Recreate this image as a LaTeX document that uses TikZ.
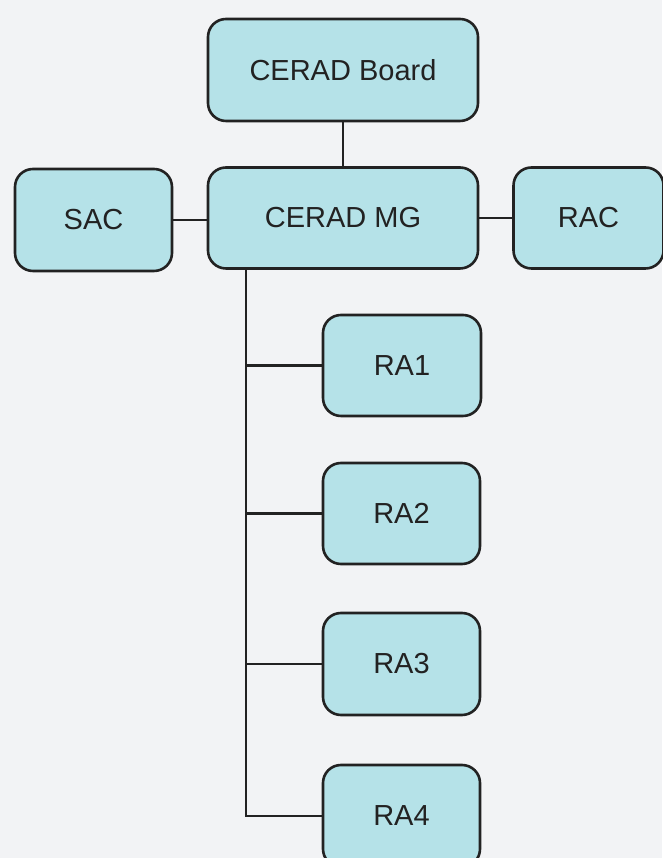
\documentclass[tikz,border=0pt]{standalone}
\usepackage{fontspec}
\setmainfont{Liberation Sans}
\definecolor{bgc}{HTML}{F2F3F5}
\definecolor{boxc}{HTML}{B5E2E8}
\definecolor{edgec}{HTML}{222222}
\begin{document}
\begin{tikzpicture}[x=1pt,y=1pt,
  orgbox/.style={draw=edgec,fill=boxc,line width=2.6pt,rounded corners=18pt,
    inner sep=0pt,font=\fontsize{29}{34}\selectfont,text=edgec},
  link/.style={draw=edgec,line width=2.8pt}]
\useasboundingbox (0,0) rectangle (662,858);
\fill[bgc] (0,0) rectangle (662,858);
\node[orgbox,minimum width=270pt,minimum height=102pt] (board) at (343,788) {CERAD Board};
\node[orgbox,minimum width=270pt,minimum height=101pt] (mg) at (343,640) {CERAD MG};
\node[orgbox,minimum width=157pt,minimum height=102pt] (sac) at (93.5,638) {SAC};
\node[orgbox,minimum width=150pt,minimum height=101pt] (rac) at (588.5,640) {RAC};
\node[orgbox,minimum width=158pt,minimum height=101pt] (ra1) at (402,492.5) {RA1};
\node[orgbox,minimum width=157pt,minimum height=101pt] (ra2) at (401.5,344.5) {RA2};
\node[orgbox,minimum width=157pt,minimum height=102pt] (ra3) at (401.5,194) {RA3};
\node[orgbox,minimum width=157pt,minimum height=102pt] (ra4) at (401.5,42) {RA4};
\coordinate (trunk) at (246,590);
\draw[link] (board) -- (mg);
\draw[link] (sac.east) -- (sac.east -| mg.west);
\draw[link] (mg.east) -- (mg.east -| rac.west);
\draw[link] (trunk) |- (ra4.west);
\draw[link] (trunk |- ra1.west) -- (ra1.west);
\draw[link] (trunk |- ra2.west) -- (ra2.west);
\draw[link] (trunk |- ra3.west) -- (ra3.west);
\end{tikzpicture}
\end{document}
